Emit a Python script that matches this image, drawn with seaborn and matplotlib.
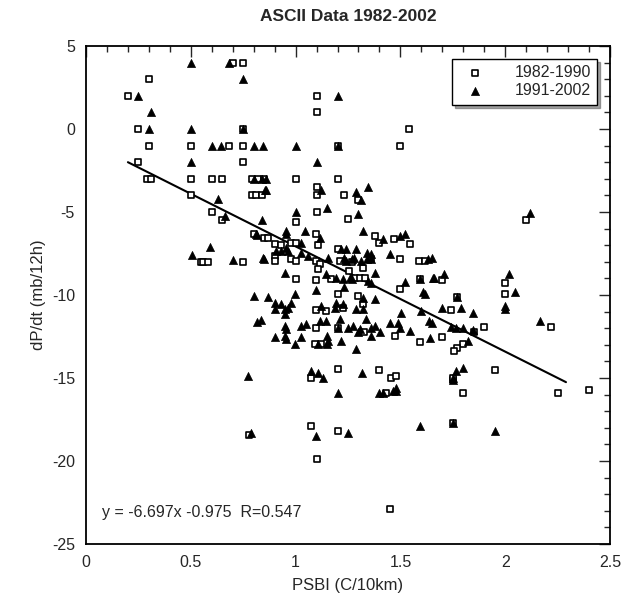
import matplotlib
matplotlib.use("Agg")
import matplotlib.pyplot as plt
import seaborn as sns
from matplotlib.ticker import MultipleLocator

# 1982-1990 (open squares)
x82 = [0.20, 0.30, 0.25, 0.30, 0.50, 0.68, 0.75, 0.25, 0.75, 0.29, 0.31, 0.50, 0.60, 0.65,
       0.79, 0.82, 0.79, 0.81, 0.84, 0.50, 0.60, 0.70, 0.75, 0.75, 1.00, 0.65, 1.10, 1.10,
       1.54, 1.20, 1.50, 0.85, 1.20, 1.10, 1.10, 1.23, 1.30, 1.10, 1.25, 0.80, 0.85, 0.55,
       0.56, 0.58, 0.75, 0.78, 1.075, 1.20, 1.10, 1.45, 1.43, 1.80, 1.75, 2.25, 2.40, 1.75,
       2.10, 1.70, 1.77, 2.00, 2.00, 1.74, 1.85, 1.90, 2.22, 1.70, 1.80, 1.77, 1.755, 1.75,
       1.95, 1.00, 1.096, 1.38, 1.40, 1.47, 1.544, 0.87, 0.90, 0.93, 0.98, 1.00, 1.107,
       0.977, 0.904, 0.904, 1.00, 1.096, 1.115, 1.107, 1.20, 1.21, 1.27, 1.322, 1.36, 1.255,
       1.496, 1.59, 1.615, 1.00, 1.096, 1.167, 1.282, 1.306, 1.33, 1.496, 1.595, 1.20, 1.298,
       1.322, 1.096, 1.147, 1.226, 1.096, 1.20, 1.326, 1.472, 1.595, 1.091, 1.123, 1.075,
       1.20, 1.40, 1.456, 1.48]
y82 = [2.0, 3.0, 0.0, -1.0, -1.0, -1.0, -1.0, -2.0, -2.0, -3.0, -3.0, -3.0, -3.0, -3.0,
       -3.0, -3.0, -4.0, -4.0, -4.0, -4.0, -5.0, 4.0, 4.0, 0.0, -3.0, -5.5, 2.0, 1.0,
       0.0, -1.0, -1.0, -3.0, -3.0, -3.5, -4.0, -4.0, -4.3, -5.0, -5.4, -6.3, -6.55, -8.0,
       -8.0, -8.0, -8.0, -18.44, -17.9, -18.2, -19.9, -22.9, -15.9, -15.9, -17.7, -15.9, -15.7, -15.1,
       -5.5, -9.1, -10.1, -9.26, -9.96, -10.9, -12.2, -11.9, -11.9, -12.5, -12.97, -13.2, -13.37, -14.97,
       -14.5, -5.61, -6.35, -6.45, -6.85, -6.65, -6.95, -6.55, -6.95, -7.0, -6.85, -6.85, -7.0,
       -7.82, -7.66, -7.96, -7.96, -7.96, -8.15, -8.42, -7.25, -7.96, -8.0, -8.35, -7.85, -8.56,
       -7.82, -7.96, -7.96, -9.02, -9.1, -9.02, -9.0, -9.0, -9.0, -9.66, -9.06, -9.96, -10.06,
       -10.52, -10.9, -10.96, -10.76, -11.96, -11.96, -12.2, -12.46, -12.86, -12.96, -12.96, -14.97,
       -14.43, -14.53, -14.97, -14.87]

# 1991-2002 (filled triangles)
x91 = [0.50, 0.68, 0.75, 0.25, 0.31, 0.30, 0.50, 0.75, 0.60, 0.646, 0.80, 0.845, 1.00, 0.50,
       0.80, 0.84, 0.86, 0.86, 0.63, 0.665, 0.84, 1.20, 1.20, 1.10, 0.853, 1.12, 1.29, 1.345,
       1.31, 1.152, 1.30, 2.116, 0.816, 0.59, 0.506, 0.70, 0.845, 0.80, 0.816, 0.837, 0.773,
       0.789, 1.20, 1.40, 1.417, 1.465, 1.481, 1.096, 1.25, 1.595, 1.75, 1.95, 1.75, 1.63,
       1.65, 1.66, 1.706, 1.61, 1.77, 2.02, 2.045, 2.00, 2.00, 1.70, 1.79, 1.846, 1.635, 1.65,
       1.74, 1.767, 1.80, 1.846, 2.164, 1.64, 1.822, 1.767, 1.80, 1.75,
       1.00, 0.956, 0.956, 1.047, 1.322, 1.115, 1.417, 1.496, 1.52, 0.813, 0.956, 0.964, 1.027,
       0.908, 0.932, 0.85, 1.027, 1.06, 1.155, 1.218, 1.24, 1.29, 1.34, 1.36, 1.23, 1.24, 1.27,
       1.28, 1.31, 1.34, 1.36, 1.377, 1.449, 0.948, 1.147, 1.194, 1.226, 1.258, 1.27, 1.346,
       1.36, 1.52, 1.595, 1.655, 1.615, 1.096, 1.231, 0.869, 0.999, 1.322, 1.377, 0.90, 0.932,
       0.98, 0.964, 0.90, 0.948, 0.948, 1.123, 1.186, 1.226, 1.194, 1.29, 1.322, 1.504, 1.60,
       0.948, 0.956, 1.027, 1.051, 1.115, 1.147, 1.20, 1.21, 1.25, 1.274, 1.306, 1.338, 1.362,
       1.298, 1.377, 1.401, 1.449, 1.488, 1.496, 1.544, 0.90, 0.948, 0.956, 0.999, 1.027, 1.152,
       1.155, 1.218, 1.36, 1.107, 1.15, 1.29, 1.075, 1.107, 1.13, 1.316, 1.48]
y91 = [4.0, 4.0, 3.0, 2.0, 1.0, 0.0, 0.0, 0.0, -1.0, -1.0, -1.0, -1.0, -1.0, -2.0,
       -3.0, -3.0, -3.0, -3.7, -4.2, -5.25, -5.5, 2.0, -1.0, -2.0, -3.65, -3.7, -3.8, -3.5,
       -4.25, -4.75, -5.15, -5.05, -6.4, -7.1, -7.6, -7.9, -7.8, -10.07, -11.6, -11.5, -14.9,
       -18.3, -15.9, -15.9, -15.9, -15.8, -15.8, -18.5, -18.3, -17.9, -17.7, -18.2, -15.1, -7.86,
       -7.76, -8.96, -8.76, -9.8, -10.1, -8.76, -9.8, -10.67, -10.87, -10.76, -10.76, -11.1, -11.57, -11.67,
       -11.9, -11.97, -11.97, -12.1, -11.57, -12.57, -12.8, -14.6, -14.4, -14.97,
       -5.0, -6.15, -6.35, -6.15, -6.15, -6.55, -6.61, -6.45, -6.35, -6.35, -7.15, -7.35, -6.85,
       -7.35, -7.35, -7.82, -7.45, -7.65, -7.75, -7.2, -7.25, -7.2, -7.45, -7.55, -7.75, -7.95, -7.85,
       -7.8, -7.95, -7.85, -7.85, -8.65, -7.55, -8.65, -8.75, -8.96, -9.06, -8.96, -9.06, -9.15,
       -9.25, -9.22, -9.06, -8.96, -9.96, -9.7, -9.5, -10.1, -9.96, -10.16, -10.22, -10.46, -10.56,
       -10.46, -10.76, -10.86, -10.86, -11.16, -10.66, -10.76, -10.56, -10.46, -10.86, -10.86, -11.06, -10.96,
       -11.86, -12.06, -11.86, -11.76, -11.56, -11.56, -11.96, -11.42, -11.96, -11.86, -12.06, -11.46, -11.96,
       -12.25, -11.86, -12.2, -11.66, -11.66, -11.96, -12.16, -12.56, -12.46, -12.66, -12.96, -12.56, -12.46,
       -12.76, -12.76, -12.46, -12.96, -12.96, -13.27, -14.57, -14.67, -14.97, -14.67, -15.6]

# regression line as drawn
fit_x = [0.2, 2.29]
fit_y = [-2.0, -15.25]
fit_text = "y = -6.697x -0.975  R=0.547"

sns.set_style("white")
plt.rcParams['font.family'] = ['Liberation Sans', 'DejaVu Sans']
plt.rcParams['axes.unicode_minus'] = False

fig = plt.figure(figsize=(6.28, 6.03), dpi=100)
ax = fig.add_axes([86 / 628, 1 - 544 / 603, 524 / 628, 498 / 603])

sns.scatterplot(x=x82, y=y82, ax=ax, marker='s', s=22, facecolor='white',
                edgecolor='black', linewidth=1.2, label='1982-1990', zorder=3)
sns.scatterplot(x=x91, y=y91, ax=ax, marker='^', s=34, color='black',
                edgecolor='black', linewidth=0.5, label='1991-2002', zorder=3)
sns.lineplot(x=fit_x, y=fit_y, ax=ax, color='black', linewidth=1.5, zorder=2)

ax.set_xlim(0, 2.5)
ax.set_ylim(-25, 5)
ax.xaxis.set_major_locator(MultipleLocator(0.5))
ax.xaxis.set_minor_locator(MultipleLocator(0.1))
ax.yaxis.set_major_locator(MultipleLocator(5))
ax.yaxis.set_minor_locator(MultipleLocator(1))
ax.set_xticks([0, 0.5, 1, 1.5, 2, 2.5])
ax.set_xticklabels(['0', '0.5', '1', '1.5', '2', '2.5'])
ax.tick_params(which='both', direction='in', top=True, right=True, labelsize=11.5, width=1.0)
ax.tick_params(which='major', length=8, pad=8)
ax.tick_params(which='minor', length=4)
for sp in ax.spines.values():
    sp.set_linewidth(1.3)
    sp.set_color('black')

ax.set_xlabel('PSBI (C/10km)', fontsize=12, labelpad=6)
ax.set_ylabel('dP/dt (mb/12h)', fontsize=12, labelpad=4)
ax.set_title('ASCII Data 1982-2002', fontsize=12.5, fontweight='bold', pad=18)

ax.text(0.03, 0.064, fit_text, transform=ax.transAxes, fontsize=11.5, va='center', ha='left')

leg = ax.legend(loc='upper right', fontsize=11.5, frameon=True, shadow=True, fancybox=False,
                borderaxespad=0.8, handletextpad=1.5, markerfirst=True, labelspacing=0.2)
leg.get_frame().set_edgecolor('black')
leg.get_frame().set_linewidth(1.0)

fig.savefig('out.png', dpi=100)
